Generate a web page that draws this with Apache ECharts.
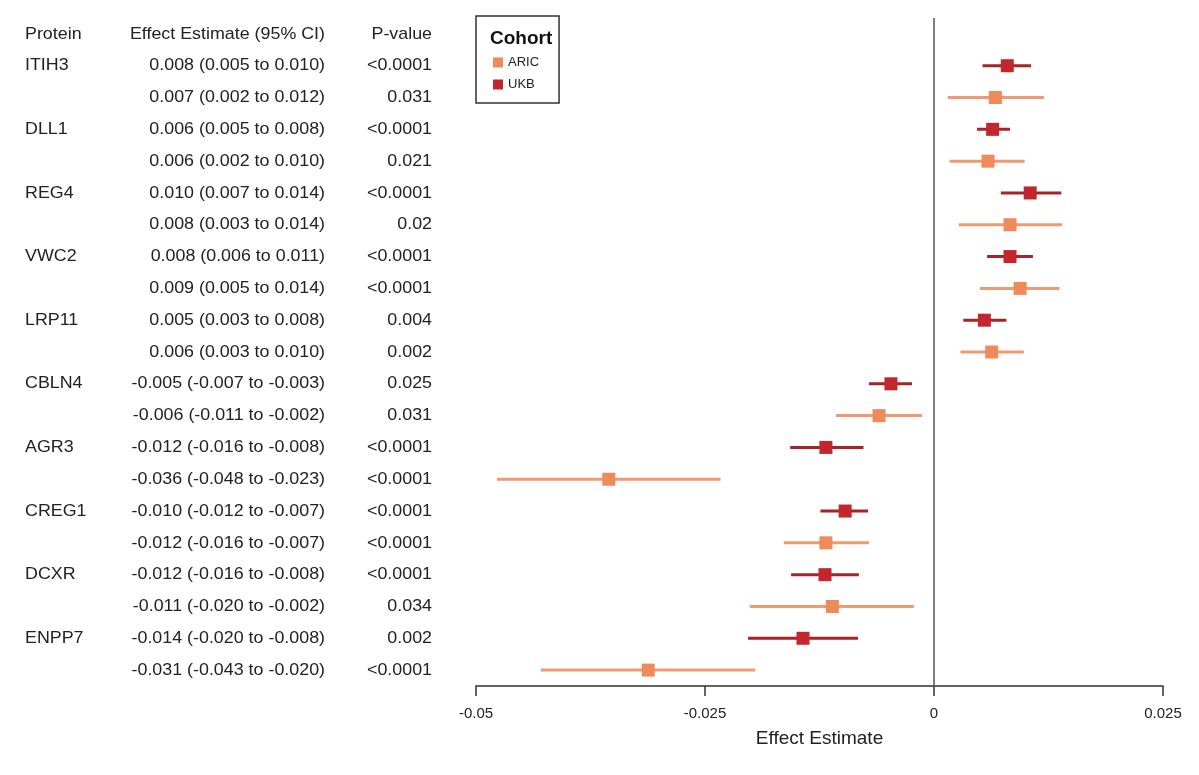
<!DOCTYPE html>
<html>
<head>
<meta charset="utf-8">
<title>Forest plot</title>
<script src="https://cdn.jsdelivr.net/npm/echarts@6/dist/echarts.min.js"></script>
<style>
  html, body { margin: 0; padding: 0; background: #fff; }
  #chart { width: 1199px; height: 775px; }
</style>
</head>
<body>
<div id="chart"></div>
<script>
// proteins, top to bottom
let proteins = ['ITIH3', 'DLL1', 'REG4', 'VWC2', 'LRP11', 'CBLN4', 'AGR3', 'CREG1', 'DCXR', 'ENPP7'];

// UKB (first row of each protein)
let ukbEst  = [0.0080, 0.0064, 0.0105, 0.0083, 0.0055, -0.0047, -0.0118, -0.0097, -0.0119, -0.0143];
let ukbLow  = [0.0053, 0.0047, 0.0073, 0.0058, 0.0032, -0.0071, -0.0157, -0.0124, -0.0156, -0.0203];
let ukbHigh = [0.0106, 0.0083, 0.0139, 0.0108, 0.0079, -0.0024, -0.0077, -0.0072, -0.0082, -0.0083];
let ukbCi = ['0.008 (0.005 to 0.010)', '0.006 (0.005 to 0.008)', '0.010 (0.007 to 0.014)', '0.008 (0.006 to 0.011)',
  '0.005 (0.003 to 0.008)', '-0.005 (-0.007 to -0.003)', '-0.012 (-0.016 to -0.008)', '-0.010 (-0.012 to -0.007)',
  '-0.012 (-0.016 to -0.008)', '-0.014 (-0.020 to -0.008)'];
let ukbP = ['<0.0001', '<0.0001', '<0.0001', '<0.0001', '0.004', '0.025', '<0.0001', '<0.0001', '<0.0001', '0.002'];

// ARIC (second row of each protein)
let aricEst  = [0.0067, 0.0059, 0.0083, 0.0094, 0.0063, -0.0060, -0.0355, -0.0118, -0.0111, -0.0312];
let aricLow  = [0.0015, 0.0017, 0.0027, 0.0050, 0.0029, -0.0107, -0.0477, -0.0164, -0.0201, -0.0429];
let aricHigh = [0.0120, 0.0099, 0.0140, 0.0137, 0.0098, -0.0013, -0.0233, -0.0071, -0.0022, -0.0195];
let aricCi = ['0.007 (0.002 to 0.012)', '0.006 (0.002 to 0.010)', '0.008 (0.003 to 0.014)', '0.009 (0.005 to 0.014)',
  '0.006 (0.003 to 0.010)', '-0.006 (-0.011 to -0.002)', '-0.036 (-0.048 to -0.023)', '-0.012 (-0.016 to -0.007)',
  '-0.011 (-0.020 to -0.002)', '-0.031 (-0.043 to -0.020)'];
let aricP = ['0.031', '0.021', '0.02', '<0.0001', '0.002', '0.031', '<0.0001', '<0.0001', '0.034', '<0.0001'];

let xTicks = [-0.05, -0.025, 0, 0.025];
let headers = ['Protein', 'Effect Estimate (95% CI)', 'P-value'];

let FONT = '"Liberation Sans", Arial, Helvetica, sans-serif';
let UKB_COLOR = '#c1272d', UKB_LINE = '#a82329';
let ARIC_COLOR = '#ef8a5b', ARIC_LINE = '#ee9a72';

// table rows: header at -1, then UKB / ARIC alternating
let tableRows = [{ row: -1, name: headers[0], ci: headers[1], p: headers[2] }];
proteins.forEach(function(p, i) {
    tableRows.push({ row: 2 * i, name: p, ci: ukbCi[i], p: ukbP[i] });
    tableRows.push({ row: 2 * i + 1, name: '', ci: aricCi[i], p: aricP[i] });
});

let ukbData = proteins.map(function(p, i) { return [ukbEst[i], 2 * i, ukbLow[i], ukbHigh[i]]; });
let aricData = proteins.map(function(p, i) { return [aricEst[i], 2 * i + 1, aricLow[i], aricHigh[i]]; });

function forestItem(lineColor, boxColor) {
    return function(params, api) {
        let mid = api.coord([api.value(0), api.value(1)]);
        let lo = api.coord([api.value(2), api.value(1)]);
        let hi = api.coord([api.value(3), api.value(1)]);
        let s = 6.5;
        return {
            type: 'group',
            children: [
                { type: 'line', shape: { x1: lo[0], y1: lo[1], x2: hi[0], y2: hi[1] },
                  style: { stroke: lineColor, lineWidth: 3 } },
                { type: 'rect', shape: { x: mid[0] - s, y: mid[1] - s, width: 2 * s, height: 2 * s },
                  style: { fill: boxColor } }
            ]
        };
    };
}

function tableText(x, y, text, align) {
    return {
        type: 'text', x: x, y: y, scaleX: 1.05,
        style: { text: text, fill: '#222', font: '17px ' + FONT, align: align, verticalAlign: 'middle' }
    };
}

let chart = echarts.init(document.getElementById('chart'));
let option = {
    animation: false,
    backgroundColor: '#fff',
    textStyle: { fontFamily: FONT },
    title: {
        text: 'Cohort', left: 490, top: 29, padding: 0,
        textStyle: { fontSize: 19, fontWeight: 'bold', color: '#111', fontFamily: FONT }
    },
    legend: {
        data: ['ARIC', 'UKB'],
        orient: 'vertical',
        left: 476, top: 16,
        padding: [40, 20, 12, 17],
        itemWidth: 10, itemHeight: 10, itemGap: 9,
        icon: 'rect',
        borderColor: '#333', borderWidth: 1.5,
        textStyle: { fontSize: 13, color: '#222', fontFamily: FONT },
        selectedMode: false
    },
    grid: { left: 476, right: 36, top: 18, bottom: 89 },
    xAxis: {
        type: 'value',
        min: xTicks[0], max: xTicks[xTicks.length - 1], interval: 0.025,
        name: 'Effect Estimate', nameLocation: 'middle', nameGap: 43,
        nameTextStyle: { fontSize: 19, color: '#222', fontFamily: FONT },
        axisLine: { show: true, onZero: false, lineStyle: { color: '#333', width: 1.5 } },
        axisTick: { show: true, length: 10, lineStyle: { color: '#333', width: 1.5 } },
        axisLabel: { fontSize: 15, color: '#222', margin: 20, fontFamily: FONT,
                     formatter: function(v) { return String(Number(v.toFixed(3))); } },
        splitLine: { show: false }
    },
    yAxis: {
        type: 'value', inverse: true, min: -1.5, max: 19.5, show: false
    },
    series: [
        {
            name: 'zero', type: 'line', silent: true, symbol: 'none',
            data: [[0, -1.5], [0, 19.5]],
            lineStyle: { color: '#555', width: 1.5 }
        },
        {
            name: 'table', type: 'custom', silent: true, clip: false,
            data: tableRows.map(function(r) { return [0, r.row]; }),
            renderItem: function(params, api) {
                let r = tableRows[params.dataIndex];
                let y = api.coord([0, api.value(1)])[1];
                return {
                    type: 'group',
                    children: [
                        tableText(25, y, r.name, 'left'),
                        tableText(325, y, r.ci, 'right'),
                        tableText(432, y, r.p, 'right')
                    ]
                };
            }
        },
        {
            name: 'ARIC', type: 'custom', clip: false,
            itemStyle: { color: ARIC_COLOR },
            encode: { x: [0, 2, 3], y: 1 },
            data: aricData,
            renderItem: forestItem(ARIC_LINE, ARIC_COLOR)
        },
        {
            name: 'UKB', type: 'custom', clip: false,
            itemStyle: { color: UKB_COLOR },
            encode: { x: [0, 2, 3], y: 1 },
            data: ukbData,
            renderItem: forestItem(UKB_LINE, UKB_COLOR)
        }
    ]
};
chart.setOption(option);

window.addEventListener('resize', function() {
    chart.resize();
});
</script>
</body>
</html>
